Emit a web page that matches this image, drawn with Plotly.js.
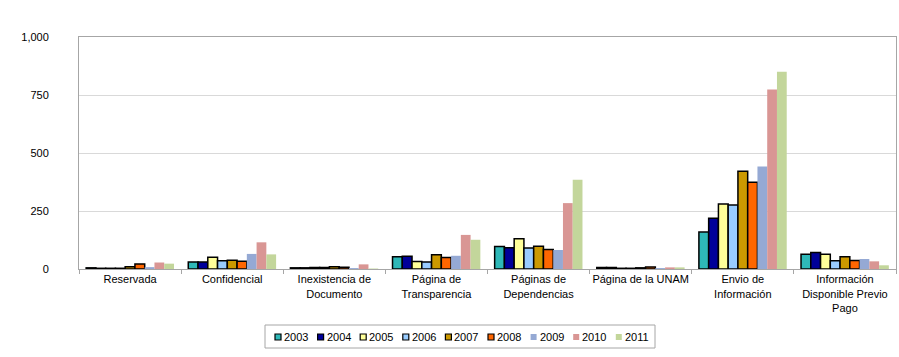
<!DOCTYPE html>
<html>
<head>
<meta charset="utf-8">
<script src="https://cdn.plot.ly/plotly-3.0.1.min.js"></script>
<style>
html,body{margin:0;padding:0;background:#fff;}
#wrap{position:relative;width:899px;height:357px;}
#frame{position:absolute;left:7px;top:0;width:0;height:357px;border-left:1px solid #bfbfbf;}
#chart{position:absolute;left:0;top:0;width:899px;height:357px;}
</style>
</head>
<body>
<div id="wrap"><div id="frame"></div><div id="chart"></div></div>
<script>
const categories = [
  "Reservada",
  "Confidencial",
  "Inexistencia de<br>Documento",
  "Página de<br>Transparencia",
  "Páginas de<br>Dependencias",
  "Página de la UNAM",
  "Envio de<br>Información",
  "Información<br>Disponible Previo<br>Pago"
];
const years = ["2003","2004","2005","2006","2007","2008","2009","2010","2011"];
const v2003 = [5, 30, 5, 53, 97, 7, 159, 64];
const v2004 = [3, 30, 5, 55, 92, 7, 219, 71];
const v2005 = [3, 51, 7, 32, 130, 3, 280, 64];
const v2006 = [3, 36, 7, 30, 91, 3, 276, 36];
const v2007 = [10, 38, 10, 61, 98, 5, 421, 53];
const v2008 = [22, 33, 8, 50, 84, 9, 374, 37];
const v2009 = [8, 65, 4, 57, 82, 4, 442, 43];
const v2010 = [28, 115, 20, 147, 284, 7, 774, 33];
const v2011 = [23, 63, 2, 126, 385, 7, 850, 16];
const seriesValues = [v2003, v2004, v2005, v2006, v2007, v2008, v2009, v2010, v2011];
const colors = ["#2EB8B8","#000099","#FFFF99","#99CCFF","#CC9900","#FF6600","#95A9D4","#D99694","#C3D69B"];
const outlined = [true,true,true,true,true,true,false,false,false];

const traces = years.map((y, i) => ({
  type: "bar",
  name: y,
  x: categories,
  y: seriesValues[i],
  marker: {
    color: colors[i],
    line: {color: outlined[i] ? "#000000" : colors[i], width: outlined[i] ? 1.5 : 0}
  },
  hoverinfo: "none",
  showlegend: false
}));

// custom compact legend (Excel-style), placed in paper coordinates
const W = 899, H = 357, L = 79, R = 3, T = 37, B = 88;
const pw = W - L - R, ph = H - T - B;
const px2x = p => (p - L) / pw;
const py2y = p => (H - B - p) / ph;
const shapes = [];
const annotations = [];
// legend box
shapes.push({type: "rect", xref: "paper", yref: "paper",
  x0: px2x(265), x1: px2x(655), y0: py2y(348), y1: py2y(325),
  line: {color: "#a6a6a6", width: 1}, fillcolor: "rgba(0,0,0,0)", layer: "above"});
years.forEach((y, i) => {
  const sx = 275 + i * 42.6;
  shapes.push({type: "rect", xref: "paper", yref: "paper",
    x0: px2x(sx), x1: px2x(sx + 6), y0: py2y(340), y1: py2y(334),
    fillcolor: colors[i],
    line: {color: outlined[i] ? "#000000" : colors[i], width: outlined[i] ? 1.2 : 0},
    layer: "above"});
  annotations.push({xref: "paper", yref: "paper", x: px2x(sx + 7), y: py2y(337),
    xanchor: "left", yanchor: "middle", showarrow: false, text: y,
    font: {size: 11, color: "#000"}, xshift: 0});
});

const layout = {
  width: W, height: H,
  margin: {l: L, r: R, t: T, b: B},
  paper_bgcolor: "#ffffff",
  plot_bgcolor: "#ffffff",
  font: {family: "Liberation Sans, Arial, sans-serif", size: 11, color: "#000"},
  barmode: "group",
  bargap: 0.14,
  bargroupgap: 0,
  showlegend: false,
  shapes: shapes,
  annotations: annotations,
  xaxis: {
    type: "category",
    showline: true, linecolor: "#a6a6a6", linewidth: 1,
    mirror: true,
    ticks: "outside", tickson: "boundaries", ticklen: 4, tickcolor: "#a6a6a6",
    tickangle: 0,
    showgrid: false,
    tickfont: {size: 11},
    automargin: false
  },
  yaxis: {
    range: [0, 1000],
    tickvals: [0, 250, 500, 750, 1000],
    ticktext: ["0", "250", "500", "750", "1,000"],
    showgrid: true, gridcolor: "#d9d9d9", gridwidth: 1,
    showline: true, linecolor: "#a6a6a6", linewidth: 1, mirror: true,
    ticks: "", zeroline: false,
    ticklabelstandoff: 27,
    tickfont: {size: 11},
    automargin: false
  }
};

Plotly.newPlot("chart", traces, layout, {displayModeBar: false, staticPlot: true});
</script>
</body>
</html>
